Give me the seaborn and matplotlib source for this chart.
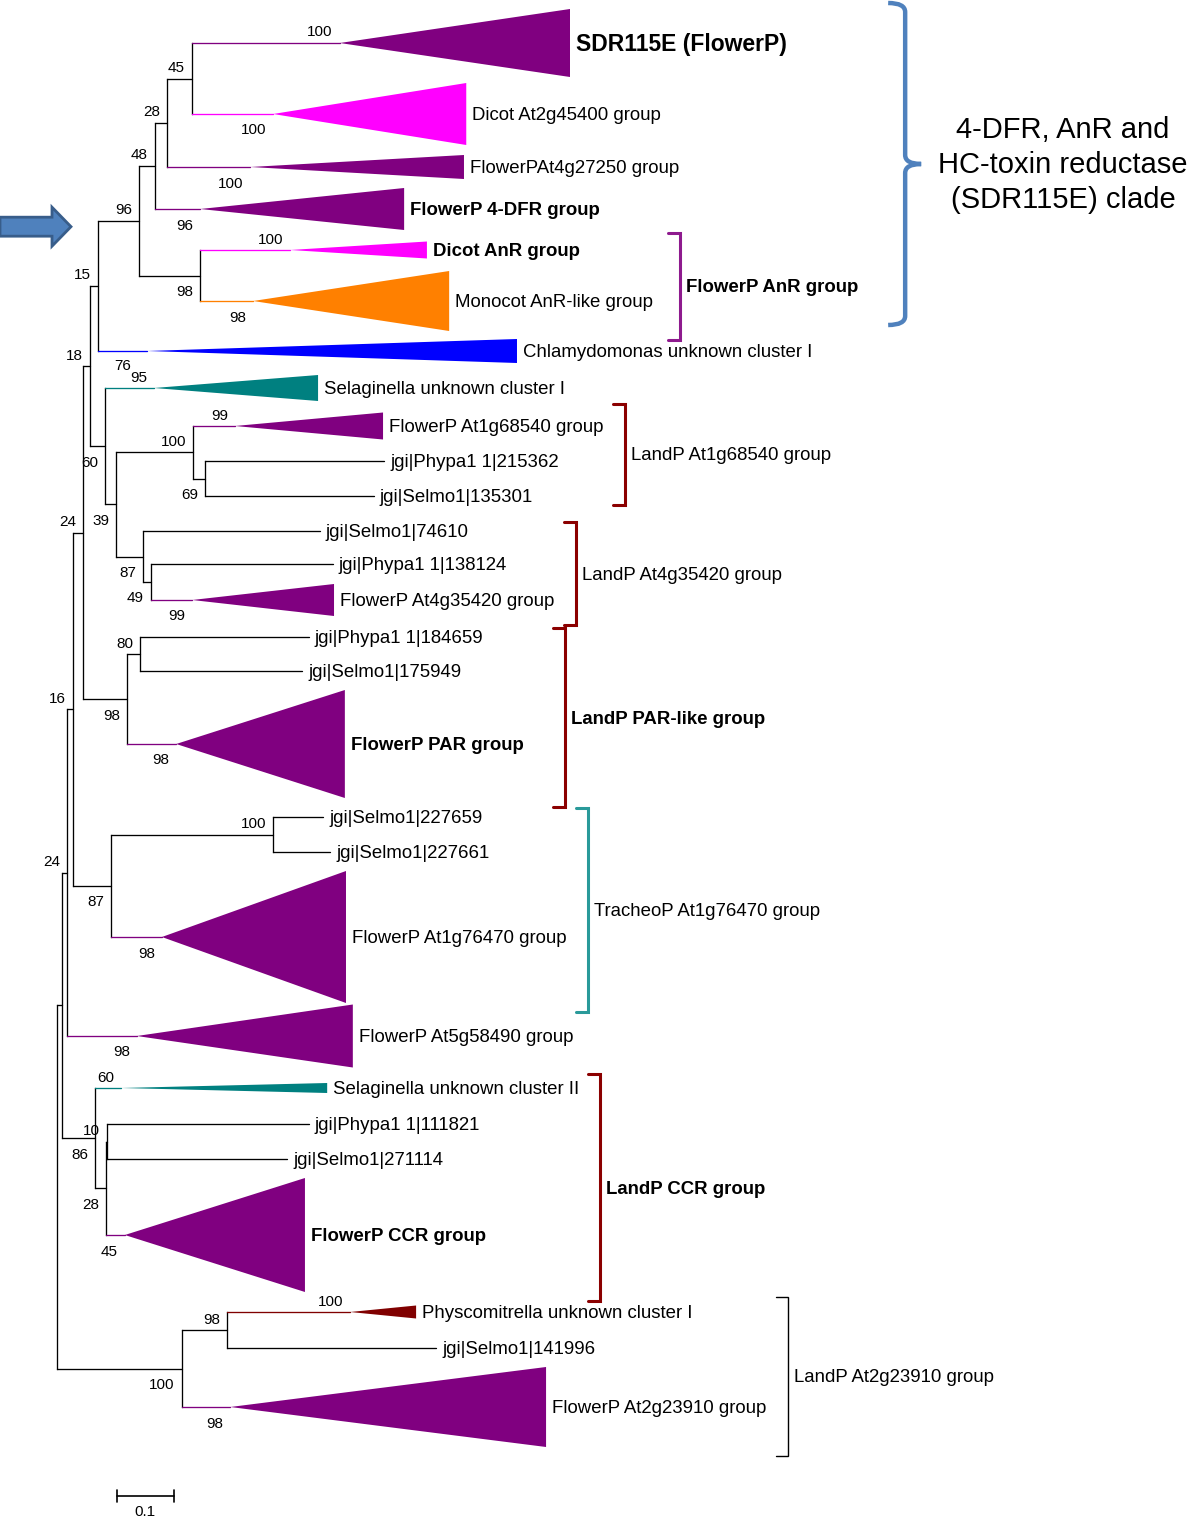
import matplotlib
matplotlib.use("Agg")
import matplotlib.pyplot as plt
from matplotlib.path import Path
from matplotlib.patches import PathPatch
import seaborn as sns

# internal nodes of the tree: name, parent, distance from root (subst./site), bootstrap
node_name = ['root', 'W2', 'W', 'V', 'P', 'G', 'E', 'D', 'C', 'B', 'A', 'F',
             'H', 'I', 'J', 'K', 'L', 'M', 'Q', 'R', 'T', 'U', 'X', 'X3', 'X2', 'Z', 'Z1']
node_parent = [None, 'root', 'W2', 'W', 'V', 'P', 'G', 'E', 'D', 'C', 'B', 'D',
               'G', 'H', 'I', 'J', 'I', 'L', 'P', 'Q', 'V', 'T', 'W2', 'X', 'X3', 'root', 'Z']
node_depth = [0.0, 0.009, 0.0175, 0.028, 0.046, 0.058, 0.072, 0.144, 0.172, 0.193, 0.237, 0.251,
              0.084, 0.1035, 0.239, 0.260, 0.151, 0.165, 0.123, 0.146, 0.095, 0.379,
              0.067, 0.086, 0.088, 0.219, 0.298]
node_boot = [None, None, 24, 16, 24, 18, 15, 96, 48, 28, 45, 98,
             60, 39, 100, 69, 87, 49, 98, 80, 87, 100, 86, 28, 10, 100, 98]

# leaves (single sequences or collapsed clades)
leaf_label = ['SDR115E (FlowerP)', 'Dicot At2g45400 group', 'FlowerPAt4g27250 group',
              'FlowerP 4-DFR group', 'Dicot AnR group', 'Monocot AnR-like group',
              'Chlamydomonas unknown cluster I', 'Selaginella unknown cluster I',
              'FlowerP At1g68540 group', 'jgi|Phypa1 1|215362', 'jgi|Selmo1|135301',
              'jgi|Selmo1|74610', 'jgi|Phypa1 1|138124', 'FlowerP At4g35420 group',
              'jgi|Phypa1 1|184659', 'jgi|Selmo1|175949', 'FlowerP PAR group',
              'jgi|Selmo1|227659', 'jgi|Selmo1|227661', 'FlowerP At1g76470 group',
              'FlowerP At5g58490 group', 'Selaginella unknown cluster II',
              'jgi|Phypa1 1|111821', 'jgi|Selmo1|271114', 'FlowerP CCR group',
              'Physcomitrella unknown cluster I', 'jgi|Selmo1|141996', 'FlowerP At2g23910 group']
leaf_parent = ['A', 'A', 'B', 'C', 'F', 'F', 'E', 'H', 'J', 'K', 'K', 'L', 'M', 'M',
               'R', 'R', 'Q', 'U', 'U', 'T', 'W', 'X', 'X2', 'X2', 'X3', 'Z1', 'Z1', 'Z']
leaf_row = [43, 114, 167, 209, 250, 301, 351, 388, 426, 461, 496, 531, 564, 600,
            637, 671, 744, 817, 852, 937, 1036, 1088, 1124, 1159, 1235, 1312, 1348, 1407]
leaf_apex = [0.496, 0.379, 0.339, 0.251, 0.409, 0.344, 0.158, 0.170, 0.312, None, None,
             None, None, 0.237, None, None, 0.209, None, None, 0.184, 0.140, 0.112,
             None, None, 0.119, 0.514, None, 0.304]
leaf_tip = [0.900, 0.718, 0.714, 0.609, 0.649, 0.688, 0.807, 0.458, 0.572, 0.574, 0.556,
            0.461, 0.484, 0.486, 0.442, 0.430, 0.505, 0.467, 0.479, 0.507, 0.519, 0.474,
            0.442, 0.404, 0.435, 0.630, 0.665, 0.858]
leaf_spread = [34, 31, 12, 21, 8.5, 30, 12, 13, 13.5, 0, 0, 0, 0, 16, 0, 0, 54, 0, 0,
               66, 31.5, 5, 0, 0, 57, 6.5, 0, 40]
leaf_boot = [100, 100, 100, 96, 100, 98, None, 95, 99, None, None, None, None, 99,
             None, None, 98, None, None, 98, 98, 60, None, None, 45, 100, None, 98]
leaf_taxon = ['FlowerP', 'Dicot', 'FlowerP', 'FlowerP', 'Dicot', 'Monocot', 'Chlamydomonas',
              'Selaginella', 'FlowerP', None, None, None, None, 'FlowerP', None, None,
              'FlowerP', None, None, 'FlowerP', 'FlowerP', 'Selaginella', None, None,
              'FlowerP', 'Physcomitrella', None, 'FlowerP']
bold_leaves = ['FlowerP 4-DFR group', 'Dicot AnR group', 'FlowerP PAR group', 'FlowerP CCR group']

# groups marked with brackets on the right
bracket_text = ['FlowerP AnR group', 'LandP At1g68540 group', 'LandP At4g35420 group',
                'LandP PAR-like group', 'TracheoP At1g76470 group', 'LandP CCR group',
                'LandP At2g23910 group']
bracket_first = ['Dicot AnR group', 'FlowerP At1g68540 group', 'jgi|Selmo1|74610',
                 'jgi|Phypa1 1|184659', 'jgi|Selmo1|227659', 'Selaginella unknown cluster II',
                 'Physcomitrella unknown cluster I']
bracket_last = ['Monocot AnR-like group', 'jgi|Selmo1|135301', 'FlowerP At4g35420 group',
                'FlowerP PAR group', 'FlowerP At1g76470 group', 'FlowerP CCR group',
                'FlowerP At2g23910 group']
bracket_x = [1.093, 0.996, 0.911, 0.891, 0.932, 0.953, 1.282]
bracket_color = ['#8E1A8E', '#8B0000', '#8B0000', '#8B0000', '#2A9A9A', '#8B0000', 'black']
bracket_bold = ['FlowerP AnR group', 'LandP PAR-like group', 'LandP CCR group']

clade_text = '4-DFR, AnR and\nHC-toxin reductase\n(SDR115E) clade'

palette = {'FlowerP': '#800080', 'Dicot': '#FF00FF', 'Monocot': '#FF8000',
           'Chlamydomonas': '#0000FF', 'Selaginella': '#008080', 'Physcomitrella': '#800000'}

sns.set_style("white")
plt.rcParams['font.family'] = ['Liberation Sans', 'DejaVu Sans']
plt.rcParams['text.color'] = 'black'

PX = 1 / 570.0   # one pixel in branch-length units (0.1 = 57 px)
LW = 0.95
FS = 13.4
BFS = 11
DY = 1.5         # small downward nudge so labels sit on their branch

fig = plt.figure(figsize=(12, 15.21), dpi=100)
ax = fig.add_axes([0, 0, 1, 1])
ax.set_xlim(-57 * PX, (1200 - 57) * PX)
ax.set_ylim(1521, 0)
ax.axis('off')

# layout: y of each internal node = middle of its children
ypos = dict(zip(leaf_label, leaf_row))
depth = dict(zip(node_name, node_depth))
children = {n: [] for n in node_name}
for n, p in zip(node_name, node_parent):
    if p is not None:
        children[p].append(n)
for lab, p in zip(leaf_label, leaf_parent):
    children[p].append(lab)


def place(n):
    if n not in ypos:
        ys = [place(c) for c in children[n]]
        ypos[n] = (min(ys) + max(ys)) / 2
    return ypos[n]


place('root')


def boot_label(x, y, val, upper):
    ty = y - 12 if upper else y + 15
    ax.text(x - 7 * PX, ty + DY, str(val), ha='right', va='center', fontsize=BFS)


# internal branches
for n, p, d, b in zip(node_name, node_parent, node_depth, node_boot):
    ys = [ypos[c] for c in children[n]]
    ax.plot([d, d], [min(ys), max(ys)], color='black', lw=LW, solid_capstyle='projecting')
    if p is not None:
        ax.plot([depth[p], d], [ypos[n], ypos[n]], color='black', lw=LW)
        if b is not None:
            boot_label(d, ypos[n], b, ypos[n] < ypos[p])

# leaves and collapsed clades
for lab, p, apex, tip, half, b, tax in zip(leaf_label, leaf_parent, leaf_apex, leaf_tip,
                                           leaf_spread, leaf_boot, leaf_taxon):
    y = ypos[lab]
    if apex is None:
        ax.plot([depth[p], tip], [y, y], color='black', lw=LW)
    else:
        c = palette[tax]
        ax.plot([depth[p], apex], [y, y], color=c, lw=LW)
        ax.fill([apex, tip, tip], [y, y - half, y + half], color=c, lw=0)
        if b is not None:
            boot_label(apex, y, b, y < ypos[p])
    if lab == 'SDR115E (FlowerP)':
        ax.text(tip + 6 * PX, y + DY, lab, ha='left', va='center', fontsize=16.5,
                fontweight='bold')
    else:
        ax.text(tip + 6 * PX, y + DY, lab, ha='left', va='center', fontsize=FS,
                fontweight='bold' if lab in bold_leaves else 'normal')

# second value printed beside the Selaginella cluster I node
sel = 'Selaginella unknown cluster I'
ax.text(leaf_apex[leaf_label.index(sel)] - 23 * PX, ypos[sel] - 22, '76',
        ha='right', va='center', fontsize=BFS)


def extent(lab, side):
    i = leaf_label.index(lab)
    return ypos[lab] + side * leaf_spread[i]


# brackets
for txt, first, last, bx, col in zip(bracket_text, bracket_first, bracket_last,
                                     bracket_x, bracket_color):
    y0 = extent(first, -1) - 9
    y1 = extent(last, 1) + 9
    lw = 1.0 if col == 'black' else 2.2
    ax.plot([bx - 12 * PX, bx, bx, bx - 12 * PX], [y0, y0, y1, y1], color=col, lw=lw,
            solid_joinstyle='miter')
    ax.text(bx + 6 * PX, (y0 + y1) / 2 + DY, txt, ha='left', va='center', fontsize=FS,
            fontweight='bold' if txt in bracket_bold else 'normal')

# curly brace for the SDR115E clade
bx = 1.488
yt = extent('SDR115E (FlowerP)', -1) - 6
yb = extent('Monocot AnR-like group', 1) - 6
ym = (yt + yb) / 2
w, nub, r = 17 * PX, 16 * PX, 9
verts = [(bx - w, yt), (bx, yt), (bx, yt + r), (bx, ym - r), (bx, ym), (bx + nub, ym),
         (bx, ym), (bx, ym + r), (bx, yb - r), (bx, yb), (bx - w, yb)]
codes = [Path.MOVETO, Path.CURVE3, Path.CURVE3, Path.LINETO, Path.CURVE3, Path.CURVE3,
         Path.CURVE3, Path.CURVE3, Path.LINETO, Path.CURVE3, Path.CURVE3]
ax.add_patch(PathPatch(Path(verts, codes), fill=False, edgecolor='#4F81BD', lw=3.2,
                       capstyle='butt'))
ax.text(bx + 0.277, ym + 1, clade_text, ha='center', va='center', fontsize=21,
        linespacing=1.33, multialignment='center')

# block arrow pointing at the clade
ya = ypos['D'] + 6
ax.fill([-57 * PX, -5 * PX, -5 * PX, 14 * PX, -5 * PX, -5 * PX, -57 * PX],
        [ya - 9.5, ya - 9.5, ya - 19.5, ya, ya + 19.5, ya + 9.5, ya + 9.5],
        facecolor='#4F81BD', edgecolor='#385D8A', lw=2)

# scale bar
sb0, sby = 0.105, 1496
ax.plot([sb0, sb0 + 0.1], [sby, sby], color='black', lw=1.2)
ax.plot([sb0, sb0], [sby - 6, sby + 6], color='black', lw=1.2)
ax.plot([sb0 + 0.1, sb0 + 0.1], [sby - 6, sby + 6], color='black', lw=1.2)
ax.text(sb0 + 0.05, sby + 16, '0.1', ha='center', va='center', fontsize=BFS)

fig.savefig('out.png', dpi=100)
